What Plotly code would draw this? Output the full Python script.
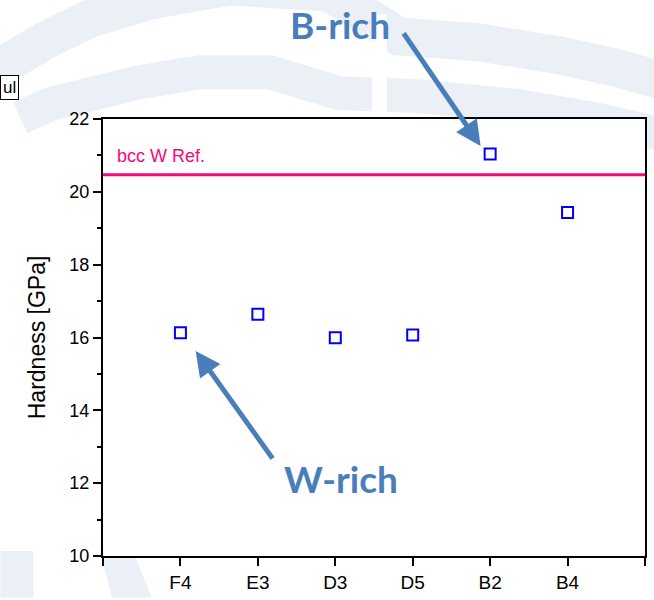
import plotly.graph_objects as go

# ---------------- data ----------------
samples = ["F4", "E3", "D3", "D5", "B2", "B4"]
hardness = [16.13, 16.64, 15.99, 16.07, 21.04, 19.43]
ref_value = 20.47
ref_label = "bcc W Ref."
y_ticks = [10, 12, 14, 16, 18, 20, 22]

# ---------------- geometry helpers ----------------
W, H = 654, 600
L, R, T, B = 103, 7, 119, 42
PW, PH = W - L - R, H - T - B

def px(x):
    return (x - L) / PW

def py(y):
    return (H - B - y) / PH

def path_from(points):
    s = "M %.4f,%.4f" % (px(points[0][0]), py(points[0][1]))
    for (x, y) in points[1:]:
        s += " L %.4f,%.4f" % (px(x), py(y))
    return s

wm = "#ebeff6"
shapes = []
# watermark bands (decoration)
outer = [(-10, 72), (15, 58), (45, 40), (90, 18), (150, 0), (230, -14), (330, -8),
         (400, 36), (480, 42), (560, 55), (620, 68), (680, 85)]
inner = [(20, 118), (50, 104), (90, 94), (140, 82), (200, 72), (270, 72), (340, 93),
         (420, 96), (520, 106), (600, 120), (680, 138)]
shapes.append(dict(type="path", xref="paper", yref="paper", path=path_from(outer),
                   line=dict(color=wm, width=38), layer="below"))
shapes.append(dict(type="path", xref="paper", yref="paper", path=path_from(inner),
                   line=dict(color=wm, width=34), layer="below"))
# vertical gap
shapes.append(dict(type="rect", xref="paper", yref="paper", x0=px(373), x1=px(388),
                   y0=py(119), y1=py(14), fillcolor="white", line=dict(width=0), layer="below"))
# bottom-left bands
shapes.append(dict(type="path", xref="paper", yref="paper",
                   path="M %f,%f L %f,%f L %f,%f L %f,%f Z" % (px(100), py(553), px(133), py(553),
                                                              px(152), py(600), px(112), py(600)),
                   fillcolor=wm, line=dict(width=0), layer="below"))
shapes.append(dict(type="rect", xref="paper", yref="paper", x0=px(0), x1=px(33),
                   y0=py(600), y1=py(553), fillcolor=wm, line=dict(width=0), layer="below"))
# white plot area over watermark
shapes.append(dict(type="rect", xref="paper", yref="paper", x0=0, x1=1, y0=0, y1=1,
                   fillcolor="white", line=dict(width=0), layer="below"))
# reference line
shapes.append(dict(type="line", xref="paper", yref="y", x0=0, x1=1, y0=ref_value, y1=ref_value,
                   line=dict(color="#f5087a", width=3)))

xpos = [i + 1 for i in range(len(samples))]

fig = go.Figure()
fig.add_trace(go.Scatter(
    x=xpos, y=hardness, mode="markers",
    marker=dict(symbol="square-open", size=11, color="#0000ff", line=dict(width=2, color="#0000ff")),
    showlegend=False, cliponaxis=False))

steel = "#4a7ebb"
annotations = [
    dict(text=ref_label, xref="paper", yref="paper", x=px(115), y=py(156), xanchor="left",
         yanchor="middle", showarrow=False, font=dict(family="Liberation Sans", size=18, color="#f5087a")),
    dict(text="Hardness [GPa]", xref="paper", yref="paper", x=px(37), y=py(338), textangle=-90,
         xanchor="center", yanchor="middle", showarrow=False,
         font=dict(family="Liberation Sans", size=23, color="black")),
    dict(text="<b>B-rich</b>", xref="paper", yref="paper", x=px(341), y=py(24), xanchor="center",
         yanchor="middle", showarrow=False, font=dict(family="Lato", size=37, color=steel)),
    dict(text="<b>W-rich</b>", xref="paper", yref="paper", x=px(342), y=py(480), xanchor="center",
         yanchor="middle", showarrow=False, font=dict(family="Lato", size=37, color=steel)),
    dict(text="", xref="paper", yref="paper", x=px(482), y=py(146), ax=-78, ay=-114,
         showarrow=True, arrowhead=2, arrowsize=1.0, arrowwidth=5, arrowcolor=steel),
    dict(text="", xref="paper", yref="paper", x=px(196), y=py(352), ax=78, ay=109,
         showarrow=True, arrowhead=2, arrowsize=1.0, arrowwidth=5, arrowcolor=steel),
    dict(text="ul", xref="paper", yref="paper", x=px(0), y=py(87), xanchor="left", yanchor="middle",
         showarrow=False, bordercolor="black", borderwidth=1, borderpad=2, bgcolor="white",
         font=dict(family="Liberation Sans", size=17, color="black")),
]

fig.update_layout(
    width=W, height=H,
    margin=dict(l=L, r=R, t=T, b=B, pad=0),
    paper_bgcolor="white", plot_bgcolor="rgba(0,0,0,0)",
    shapes=shapes, annotations=annotations,
    xaxis=dict(range=[0, 7], tickvals=list(range(0, 8)), ticktext=[""] + samples + [""],
               showgrid=False, zeroline=False, showline=True, linecolor="black", linewidth=2,
               mirror=True, ticks="outside", ticklen=8, tickwidth=2, tickcolor="black",
               tickfont=dict(family="Liberation Sans", size=19, color="black")),
    yaxis=dict(range=[10, 22], tickvals=y_ticks, showgrid=False, zeroline=False, showline=True,
               linecolor="black", linewidth=2, mirror=True, ticks="outside", ticklen=8, tickwidth=2,
               tickcolor="black", tickfont=dict(family="Liberation Sans", size=18, color="black"),
               minor=dict(dtick=1, ticks="outside", ticklen=4, tickwidth=2, tickcolor="black")),
)

fig.write_html("out.html")
